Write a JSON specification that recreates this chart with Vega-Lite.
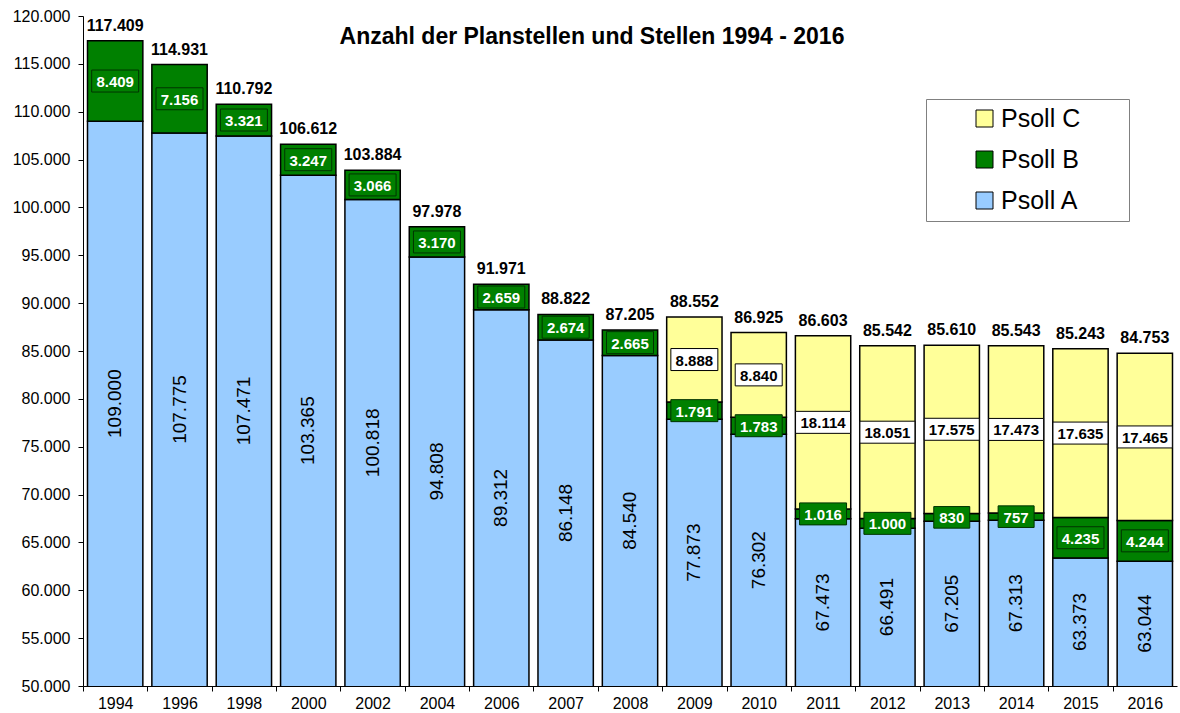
{
  "$schema": "https://vega.github.io/schema/vega-lite/v6.json",
  "width": 1094,
  "height": 670,
  "autosize": {"type": "none"},
  "padding": {"left": 83, "top": 16, "right": 3, "bottom": 27},
  "background": "white",
  "config": {
    "locale": {"number": {"decimal": ",", "thousands": ".", "grouping": [3], "currency": ["", " €"]}},
    "view": {"stroke": null},
    "font": "Liberation Sans",
    "axis": {"labelFont": "Liberation Sans", "labelColor": "black", "domainColor": "black", "tickColor": "black", "grid": false}
  },
  "title": {
    "text": "Anzahl der Planstellen und Stellen 1994 - 2016",
    "font": "Liberation Sans",
    "fontSize": 23,
    "fontWeight": "bold",
    "color": "black",
    "anchor": "middle",
    "frame": "group",
    "offset": -41,
    "dx": -38
  },
  "data": {
    "values": [
      {"year": "1994", "cat": "Psoll A", "value": 109000},
      {"year": "1994", "cat": "Psoll B", "value": 8409},
      {"year": "1996", "cat": "Psoll A", "value": 107775},
      {"year": "1996", "cat": "Psoll B", "value": 7156},
      {"year": "1998", "cat": "Psoll A", "value": 107471},
      {"year": "1998", "cat": "Psoll B", "value": 3321},
      {"year": "2000", "cat": "Psoll A", "value": 103365},
      {"year": "2000", "cat": "Psoll B", "value": 3247},
      {"year": "2002", "cat": "Psoll A", "value": 100818},
      {"year": "2002", "cat": "Psoll B", "value": 3066},
      {"year": "2004", "cat": "Psoll A", "value": 94808},
      {"year": "2004", "cat": "Psoll B", "value": 3170},
      {"year": "2006", "cat": "Psoll A", "value": 89312},
      {"year": "2006", "cat": "Psoll B", "value": 2659},
      {"year": "2007", "cat": "Psoll A", "value": 86148},
      {"year": "2007", "cat": "Psoll B", "value": 2674},
      {"year": "2008", "cat": "Psoll A", "value": 84540},
      {"year": "2008", "cat": "Psoll B", "value": 2665},
      {"year": "2009", "cat": "Psoll A", "value": 77873},
      {"year": "2009", "cat": "Psoll B", "value": 1791},
      {"year": "2009", "cat": "Psoll C", "value": 8888},
      {"year": "2010", "cat": "Psoll A", "value": 76302},
      {"year": "2010", "cat": "Psoll B", "value": 1783},
      {"year": "2010", "cat": "Psoll C", "value": 8840},
      {"year": "2011", "cat": "Psoll A", "value": 67473},
      {"year": "2011", "cat": "Psoll B", "value": 1016},
      {"year": "2011", "cat": "Psoll C", "value": 18114},
      {"year": "2012", "cat": "Psoll A", "value": 66491},
      {"year": "2012", "cat": "Psoll B", "value": 1000},
      {"year": "2012", "cat": "Psoll C", "value": 18051},
      {"year": "2013", "cat": "Psoll A", "value": 67205},
      {"year": "2013", "cat": "Psoll B", "value": 830},
      {"year": "2013", "cat": "Psoll C", "value": 17575},
      {"year": "2014", "cat": "Psoll A", "value": 67313},
      {"year": "2014", "cat": "Psoll B", "value": 757},
      {"year": "2014", "cat": "Psoll C", "value": 17473},
      {"year": "2015", "cat": "Psoll A", "value": 63373},
      {"year": "2015", "cat": "Psoll B", "value": 4235},
      {"year": "2015", "cat": "Psoll C", "value": 17635},
      {"year": "2016", "cat": "Psoll A", "value": 63044},
      {"year": "2016", "cat": "Psoll B", "value": 4244},
      {"year": "2016", "cat": "Psoll C", "value": 17465}
    ]
  },
  "transform": [
    {"stack": "value", "groupby": ["year"], "sort": [{"field": "cat", "order": "ascending"}], "as": ["lo", "hi"]},
    {"calculate": "datum.cat == 'Psoll A' ? (50000 + datum.hi) / 2 : (datum.lo + datum.hi) / 2", "as": "mid"}
  ],
  "layer": [
    {
      "mark": {"type": "bar", "stroke": "black", "strokeWidth": 1.5, "clip": true},
      "encoding": {
        "x": {
          "field": "year", "type": "ordinal", "title": null,
          "scale": {"paddingInner": 0.14, "paddingOuter": 0.07},
          "axis": {"labelAngle": 0, "labelFontSize": 16, "bandPosition": 0, "tickOffset": -4.5, "labelOffset": 4.5, "tickSize": 5, "labelPadding": 4, "domainWidth": 1, "tickWidth": 1}
        },
        "y": {
          "field": "lo", "type": "quantitative", "title": null,
          "scale": {"domain": [50000, 120000], "zero": false, "nice": false},
          "axis": {"values": [50000, 55000, 60000, 65000, 70000, 75000, 80000, 85000, 90000, 95000, 100000, 105000, 110000, 115000, 120000], "format": ",d", "labelFontSize": 16, "tickSize": 5, "labelPadding": 8}
        },
        "y2": {"field": "hi"},
        "color": {
          "field": "cat", "type": "nominal",
          "scale": {"domain": ["Psoll C", "Psoll B", "Psoll A"], "range": ["#FFFF99", "#008000", "#99CCFF"]},
          "legend": {
            "orient": "none", "legendX": 843, "legendY": 83, "title": null,
            "labelFontSize": 25, "labelColor": "black", "labelFont": "Liberation Sans",
            "strokeColor": "#808080", "fillColor": "white", "padding": 7, "rowPadding": 15,
            "symbolType": "square", "symbolSize": 289, "symbolStrokeColor": "black", "symbolStrokeWidth": 1,
            "symbolOffset": 39, "labelOffset": 4,
            "labelExpr": "datum.label + '      \u200b'"
          }
        }
      }
    },
    {
      "transform": [{"filter": "datum.cat == 'Psoll A'"}],
      "mark": {"type": "text", "angle": 270, "fontSize": 19, "color": "black", "align": "center", "baseline": "middle"},
      "encoding": {
        "x": {"field": "year", "type": "ordinal"},
        "y": {"field": "mid", "type": "quantitative", "title": null},
        "text": {"field": "value", "type": "quantitative", "format": ",d"}
      }
    },
    {
      "transform": [{"filter": "datum.cat != 'Psoll A'"}],
      "mark": {"type": "point", "filled": true, "opacity": 1, "strokeWidth": 1},
      "encoding": {
        "x": {"field": "year", "type": "ordinal"},
        "y": {"field": "mid", "type": "quantitative", "title": null},
        "fill": {"condition": {"test": "datum.cat == 'Psoll B'", "value": "#008000"}, "value": "white"},
        "stroke": {"condition": {"test": "datum.cat == 'Psoll B'", "value": "#003300"}, "value": "black"},
        "shape": {
          "condition": [
            {"test": "datum.value < 1000", "value": "M-1,-0.6H1V0.6H-1Z"},
            {"test": "datum.value >= 10000", "value": "M-1,-0.4H1V0.4H-1Z"}
          ],
          "value": "M-1,-0.468H1V0.468H-1Z"
        },
        "size": {
          "condition": [
            {"test": "datum.value < 1000", "value": 1296},
            {"test": "datum.value >= 10000", "value": 3025}
          ],
          "value": 2209
        }
      }
    },
    {
      "transform": [{"filter": "datum.cat != 'Psoll A'"}],
      "mark": {"type": "text", "fontSize": 15, "fontWeight": "bold", "align": "center", "baseline": "middle", "dy": 1},
      "encoding": {
        "x": {"field": "year", "type": "ordinal"},
        "y": {"field": "mid", "type": "quantitative", "title": null},
        "color": {"condition": {"test": "datum.cat == 'Psoll B'", "value": "white"}, "value": "black"},
        "text": {"field": "value", "type": "quantitative", "format": ",d"}
      }
    },
    {
      "transform": [{"aggregate": [{"op": "max", "field": "hi", "as": "total"}], "groupby": ["year"]}],
      "mark": {"type": "text", "fontSize": 16, "fontWeight": "bold", "color": "black", "align": "center", "baseline": "alphabetic", "dy": -10},
      "encoding": {
        "x": {"field": "year", "type": "ordinal"},
        "y": {"field": "total", "type": "quantitative", "title": null},
        "text": {"field": "total", "type": "quantitative", "format": ",d"}
      }
    }
  ]
}
